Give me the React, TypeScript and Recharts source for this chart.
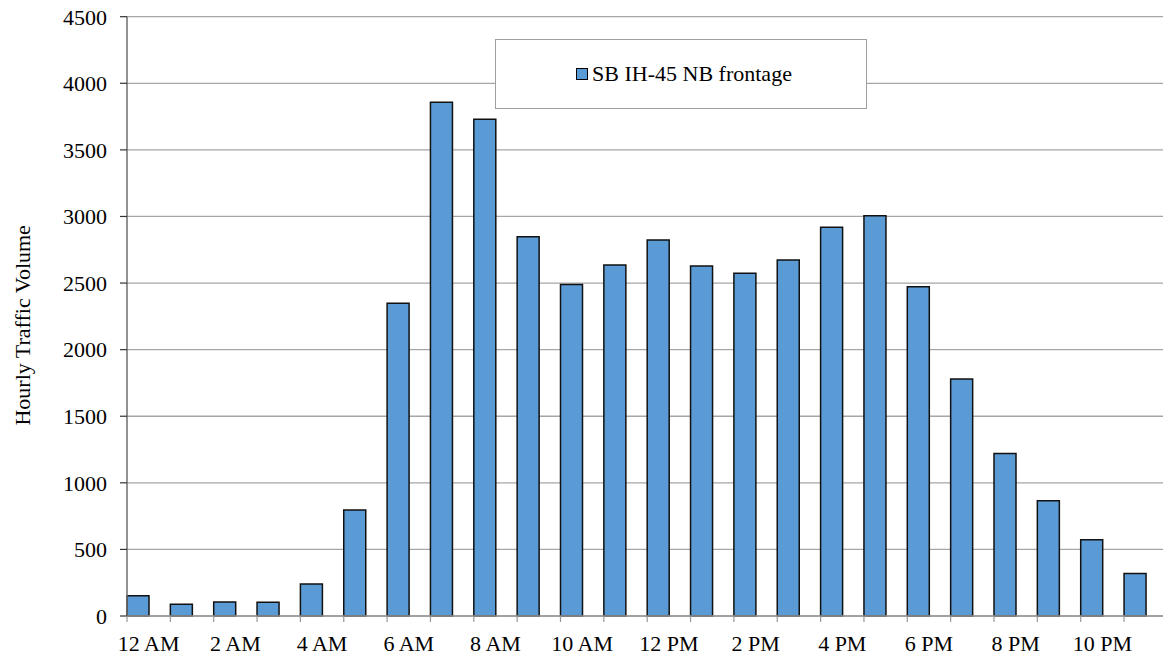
import { BarChart, Bar, XAxis, YAxis, CartesianGrid, Legend } from 'recharts';

const hours = [
  '12 AM', '1 AM', '2 AM', '3 AM', '4 AM', '5 AM', '6 AM', '7 AM',
  '8 AM', '9 AM', '10 AM', '11 AM', '12 PM', '1 PM', '2 PM', '3 PM',
  '4 PM', '5 PM', '6 PM', '7 PM', '8 PM', '9 PM', '10 PM', '11 PM',
];

const volumes = [
  152, 88, 105, 103, 240, 796, 2348, 3857,
  3730, 2848, 2490, 2636, 2823, 2628, 2573, 2673,
  2919, 3006, 2473, 1780, 1221, 866, 573, 320,
];

const yTicks = [0, 500, 1000, 1500, 2000, 2500, 3000, 3500, 4000, 4500];

const seriesName = 'SB IH-45 NB frontage';

const data = hours.map((h, i) => ({ hour: h, volume: volumes[i] }));

const FONT = 'Liberation Serif, DejaVu Serif, serif';
const CHART_W = 1180;
const CHART_H = 656;
const PLOT_LEFT = 127;
const PLOT_W = 1040.4;
const BAND = PLOT_W / hours.length;
const X_TICK = 6;
const X_MARGIN = 13;

function HourTick(props: any) {
  const { x, y, payload } = props;
  const index = props.index ?? payload.index;
  const axisY = y - X_TICK - X_MARGIN;
  const edge = x - BAND / 2;
  return (
    <g>
      <line x1={edge} x2={edge} y1={axisY} y2={axisY + X_TICK} stroke="#999" strokeWidth={1.2} />
      {index % 2 === 0 && (
        <text x={x} y={axisY + 35} textAnchor="middle" fontFamily={FONT} fontSize={22} fill="#000">
          {payload.value}
        </text>
      )}
    </g>
  );
}

function YTitle(props: any) {
  const vb = props.viewBox || {};
  const cx = (vb.x ?? 0) + 22;
  const cy = (vb.y ?? 0) + (vb.height ?? 0) / 2 + 9;
  return (
    <text
      transform={`translate(${cx},${cy}) rotate(-90)`}
      textAnchor="middle"
      dominantBaseline="central"
      fontFamily={FONT}
      fontSize={22}
      fill="#000"
    >
      Hourly Traffic Volume
    </text>
  );
}

function LegendBox(props: any) {
  const items = (props.payload || []).filter((p: any) => p.type !== 'none');
  return (
    <div
      style={{
        boxSizing: 'border-box',
        width: 372,
        height: 70,
        border: '1px solid #a0a0a0',
        background: '#fff',
        display: 'flex',
        alignItems: 'center',
        justifyContent: 'center',
        fontFamily: FONT,
        fontSize: 22,
        color: '#000',
      }}
    >
      {items.map((it: any) => (
        <span key={it.value} style={{ display: 'flex', alignItems: 'center', marginLeft: 6 }}>
          <span
            style={{
              display: 'inline-block',
              boxSizing: 'border-box',
              width: 12,
              height: 12,
              background: it.color,
              border: '1.5px solid #000',
              marginRight: 4,
            }}
          />
          {it.value}
        </span>
      ))}
    </div>
  );
}

export default function App() {
  return (
    <div
      style={{
        position: 'absolute',
        top: 0,
        left: 0,
        width: 1163,
        height: 656,
        overflow: 'hidden',
        background: '#fff',
      }}
    >
      <BarChart
        width={CHART_W}
        height={CHART_H}
        data={data}
        margin={{ top: 16.7, right: CHART_W - PLOT_LEFT - PLOT_W, left: 0, bottom: 0 }}
        barCategoryGap={0}
        barGap={0}
      >
        <CartesianGrid horizontal vertical={false} stroke="#a6a6a6" strokeWidth={1.3} />
        <XAxis
          dataKey="hour"
          interval={0}
          height={40}
          tickLine={false}
          tickSize={X_TICK}
          tickMargin={X_MARGIN}
          tick={<HourTick />}
          axisLine={{ stroke: '#999', strokeWidth: 1.3 }}
        />
        <YAxis
          width={PLOT_LEFT}
          domain={[0, 4500]}
          ticks={yTicks}
          interval={0}
          tickSize={7}
          tickMargin={13}
          tickLine={{ stroke: '#333', strokeWidth: 1.2 }}
          axisLine={{ stroke: '#6e6e6e', strokeWidth: 1.5 }}
          tick={{ fontFamily: FONT, fontSize: 22, fill: '#000' }}
          label={<YTitle />}
        />
        <Legend
          layout="horizontal"
          verticalAlign="middle"
          align="center"
          wrapperStyle={{ position: 'absolute', left: 495, top: 39, width: 372, height: 70 }}
          content={<LegendBox />}
        />
        <Bar
          dataKey="volume"
          name={seriesName}
          fill="#5b9bd5"
          stroke="#111"
          strokeWidth={1.5}
          isAnimationActive={false}
        />
        <Bar dataKey="spare" legendType="none" fill="none" isAnimationActive={false} />
      </BarChart>
    </div>
  );
}
